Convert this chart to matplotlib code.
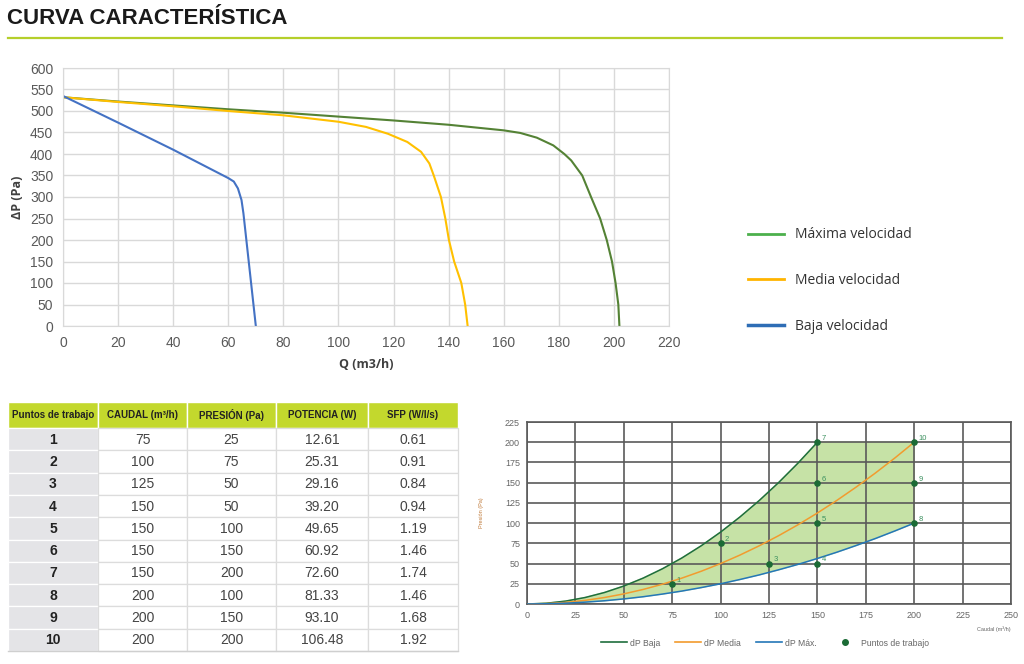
import matplotlib
matplotlib.use("Agg")
import matplotlib.pyplot as plt
from matplotlib.lines import Line2D
from matplotlib.patches import Rectangle
import numpy as np

plt.rcParams['font.family'] = ['Open Sans', 'DejaVu Sans']
ARIAL = ['Liberation Sans', 'DejaVu Sans']

# ---------------- data ----------------
title = "CURVA CARACTERÍSTICA"

q_max = [0, 20, 40, 60, 80, 100, 120, 140, 160, 166, 172, 178, 182, 184.5, 188.5, 191.7, 195, 197.4, 199.3, 200.6, 201.6, 202]
p_max = [532, 522, 513, 504, 496, 487, 478, 468, 455, 449, 438, 420, 400, 385, 350, 300, 250, 200, 150, 100, 50, 0]
q_med = [0, 20, 40, 60, 80, 100, 110, 118, 125, 130, 133, 134.6, 137.2, 138.8, 140.1, 142, 144.6, 146, 146.9]
p_med = [532, 521, 511, 500, 490, 475, 463, 447, 428, 405, 378, 350, 300, 250, 200, 150, 100, 50, 0]
q_baja = [0, 20, 40, 60, 62, 63.5, 64.8, 65.5, 70]
p_baja = [535, 473, 410, 344, 336, 320, 293, 262, 0]
legend_main = ["Máxima velocidad", "Media velocidad", "Baja velocidad"]

table_header = ["Puntos de trabajo", "CAUDAL (m³/h)", "PRESIÓN (Pa)", "POTENCIA (W)", "SFP (W/l/s)"]
puntos = [1, 2, 3, 4, 5, 6, 7, 8, 9, 10]
caudal = [75, 100, 125, 150, 150, 150, 150, 200, 200, 200]
presion = [25, 75, 50, 50, 100, 150, 200, 100, 150, 200]
potencia = ["12.61", "25.31", "29.16", "39.20", "49.65", "60.92", "72.60", "81.33", "93.10", "106.48"]
sfp = ["0.61", "0.91", "0.84", "0.94", "1.19", "1.46", "1.74", "1.46", "1.68", "1.92"]

x_baja2 = [0, 10, 20, 30, 40, 50, 60, 70, 80, 90, 100, 110, 120, 130, 140, 150]
y_baja2 = [0, 0.9, 3.6, 8.0, 14.2, 22.2, 32.0, 43.6, 56.9, 72.0, 88.9, 107.6, 128.0, 150.2, 174.2, 200]
x_med2 = [0, 10, 20, 30, 40, 50, 60, 70, 80, 90, 100, 110, 120, 130, 140, 150, 160, 170, 180, 190, 200]
y_med2 = [0, 0.5, 2, 4.5, 8, 12.5, 18, 24.5, 32, 40.5, 50, 60.5, 72, 84.5, 98, 112.5, 128, 144.5, 162, 180.5, 200]
y_max2 = [0, 0.3, 1, 2.3, 4, 6.3, 9, 12.3, 16, 20.3, 25, 30.3, 36, 42.3, 49, 56.3, 64, 72.3, 81, 90.3, 100]
legend_small = ["dP Baja", "dP Media", "dP Máx.", "Puntos de trabajo"]

W, H = 1024, 664
fig = plt.figure(figsize=(W / 100, H / 100), dpi=100)

def px_axes(l, t, r, b):
    return fig.add_axes([l / W, 1 - b / H, (r - l) / W, (b - t) / H])

# ---------------- overlay (title, table) ----------------
ov = fig.add_axes([0, 0, 1, 1])
ov.set_xlim(0, W)
ov.set_ylim(H, 0)
ov.axis('off')
ov.text(7, 19, title, fontsize=16, fontweight='bold', color='#1a1a1a',
        family=ARIAL, va='center', ha='left')
ov.plot([8, 1002], [38, 38], color='#b5cf2b', lw=1.6)

col_x = [8, 98, 187, 276, 368, 458]
head_top, head_bot, tab_bot = 402, 428, 651
row_h = (tab_bot - head_bot) / len(puntos)
for i in range(5):
    ov.add_patch(Rectangle((col_x[i], head_top), col_x[i + 1] - col_x[i], head_bot - head_top,
                           facecolor='#c3d82d', edgecolor='white', lw=1.0))
    ov.text((col_x[i] + col_x[i + 1]) / 2, (head_top + head_bot) / 2, table_header[i],
            fontsize=7, fontweight='bold', color='#222222', ha='center', va='center', family=ARIAL)
for r in range(len(puntos)):
    y0 = head_bot + r * row_h
    vals = [str(puntos[r]), str(caudal[r]), str(presion[r]), potencia[r], sfp[r]]
    for i in range(5):
        fc = '#e4e4e7' if i == 0 else 'white'
        ec = 'white' if i == 0 else '#dcdcdc'
        ov.add_patch(Rectangle((col_x[i], y0), col_x[i + 1] - col_x[i], row_h,
                               facecolor=fc, edgecolor=ec, lw=0.9))
        ov.text((col_x[i] + col_x[i + 1]) / 2, y0 + row_h / 2 + 0.5, vals[i],
                fontsize=10, fontweight='bold' if i == 0 else 'normal', family=ARIAL,
                color='#222222' if i == 0 else '#444444', ha='center', va='center')
ov.plot([col_x[0], col_x[-1]], [tab_bot, tab_bot], color='#cfcfcf', lw=1)

# ---------------- main chart ----------------
ax = px_axes(63, 68, 669, 326)
ax.plot(q_max, p_max, color='#548235', lw=1.5)
ax.plot(q_med, p_med, color='#ffc000', lw=1.5)
ax.plot(q_baja, p_baja, color='#4472c4', lw=1.5)
ax.set_xlim(0, 220)
ax.set_ylim(0, 600)
ax.set_xticks(np.arange(0, 221, 20))
ax.set_yticks(np.arange(0, 601, 50))
ax.grid(True, color='#d9d9d9', lw=1)
ax.set_axisbelow(True)
for s in ax.spines.values():
    s.set_color('#d9d9d9')
ax.tick_params(length=0, labelsize=10, colors='#595959', pad=7)
for lab in ax.get_xticklabels() + ax.get_yticklabels():
    lab.set_family(ARIAL)
ax.set_xlabel("Q (m3/h)", fontsize=9, fontweight='bold', color='#404040', labelpad=6)
ax.set_ylabel("ΔP (Pa)", fontsize=9, fontweight='bold', color='#404040', labelpad=4)

handles = [Line2D([], [], color='#4cb04c', lw=2),
           Line2D([], [], color='#ffb400', lw=2),
           Line2D([], [], color='#2e6db5', lw=2.5)]
fig.legend(handles, legend_main, loc='upper left', bbox_to_anchor=(735 / W, 1 - 215 / H),
           frameon=False, fontsize=10, labelspacing=2.2, handlelength=2.6, handletextpad=0.8,
           labelcolor='#333333')

# ---------------- small chart ----------------
bx = px_axes(527, 422, 1011, 604)
pts_color = '#1b6b35'
poly_x = list(x_baja2) + [200, 200] + list(x_med2[::-1])
poly_y = list(y_baja2) + [200, 100] + list(y_max2[::-1])
bx.fill(poly_x, poly_y, color='#c6e2a6', zorder=1)
bx.plot(x_baja2, y_baja2, color='#1f6e3d', lw=1.1, zorder=3)
bx.plot(x_med2, y_med2, color='#f29b2e', lw=1.1, zorder=3)
bx.plot(x_med2, y_max2, color='#2477b8', lw=1.1, zorder=3)
bx.scatter(caudal, presion, s=14, color=pts_color, zorder=4)
for n, xx, yy in zip(puntos, caudal, presion):
    bx.annotate(str(n), (xx, yy), xytext=(3, 1.5), textcoords='offset points',
                fontsize=5.5, color='#3d9160', zorder=5, family=ARIAL)
bx.set_xlim(0, 250)
bx.set_ylim(0, 225)
bx.set_xticks(np.arange(0, 251, 25))
bx.set_yticks(np.arange(0, 226, 25))
bx.grid(True, color='#5a5a5a', lw=1.2, zorder=2)
bx.set_axisbelow(False)
for s in bx.spines.values():
    s.set_color('#5a5a5a')
    s.set_linewidth(1.2)
bx.tick_params(length=0, labelsize=6.5, colors='#666666', pad=5)
for lab in bx.get_xticklabels() + bx.get_yticklabels():
    lab.set_family(ARIAL)
bx.text(1.0, -0.12, "Caudal (m³/h)", transform=bx.transAxes, fontsize=4, color='#666666',
        ha='right', va='top', family=ARIAL)
bx.text(-0.095, 0.5, "Presión (Pa)", transform=bx.transAxes, fontsize=4, color='#c07a3a',
        rotation=90, ha='center', va='center', family=ARIAL)

handles2 = [Line2D([], [], color='#1f6e3d', lw=1.2),
            Line2D([], [], color='#f29b2e', lw=1.2),
            Line2D([], [], color='#2477b8', lw=1.2),
            Line2D([], [], color=pts_color, marker='o', ls='none', markersize=4)]
leg2 = fig.legend(handles2, legend_small, loc='center', bbox_to_anchor=(765 / W, 1 - 643 / H),
                  ncol=4, frameon=False, fontsize=6.2, labelcolor='#666666', handlelength=3.0,
                  columnspacing=1.8, handletextpad=0.35)
for t in leg2.get_texts():
    t.set_family(ARIAL)

fig.savefig("out.png", dpi=100)
